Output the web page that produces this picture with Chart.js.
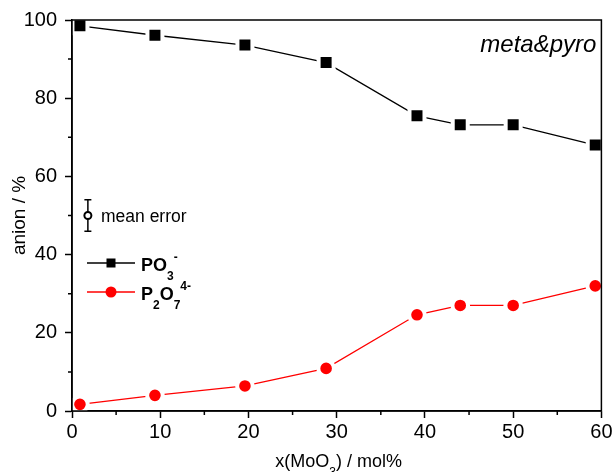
<!DOCTYPE html>
<html>
<head>
<meta charset="utf-8">
<script src="https://cdn.jsdelivr.net/npm/chart.js@4/dist/chart.umd.min.js"></script>
<style>
html, body { margin: 0; padding: 0; background: #fff; }
#wrap { width: 616px; height: 472px; }
</style>
</head>
<body>
<div id="wrap"><canvas id="lineChart" width="616" height="472"></canvas></div>
<script>
// values
var xMoO3 = [0.15, 0.9, 9.4, 19.6, 28.8, 39.1, 44.0, 50.0, 59.3];
var metaPO3 = [99.0, 98.5, 96.1, 93.6, 89.1, 75.5, 73.2, 73.2, 68.0];
var pyroP2O7 = [1.1, 1.7, 4.0, 6.4, 10.9, 24.6, 27.0, 27.0, 32.0];
var meanErrX = [1.8];
var meanErrY = [50];
var meanErrBar = [4];
var xTicks = [0, 10, 20, 30, 40, 50, 60];
var yTicks = [0, 20, 40, 60, 80, 100];
var xMinor = [5, 15, 25, 35, 45, 55];
var yMinor = [10, 30, 50, 70, 90];

var FONT = "'Liberation Sans', Arial, sans-serif";

function pts(xs, ys) {
    return xs.map(function (x, i) { return { x: x, y: ys[i] }; });
}

// error bar of the "mean error" marker
var errorBars = {
    id: 'errorBars',
    beforeDatasetsDraw: function (chart) {
        var ctx = chart.ctx, xs = chart.scales.x, ys = chart.scales.y;
        ctx.save();
        ctx.strokeStyle = '#000';
        ctx.lineWidth = 1.5;
        for (var i = 0; i < meanErrX.length; i++) {
            var px = xs.getPixelForValue(meanErrX[i]);
            var y1 = ys.getPixelForValue(meanErrY[i] + meanErrBar[i]);
            var y2 = ys.getPixelForValue(meanErrY[i] - meanErrBar[i]);
            ctx.beginPath();
            ctx.moveTo(px, y1); ctx.lineTo(px, y2);
            ctx.moveTo(px - 3.5, y1); ctx.lineTo(px + 3.5, y1);
            ctx.moveTo(px - 3.5, y2); ctx.lineTo(px + 3.5, y2);
            ctx.stroke();
        }
        ctx.restore();
    }
};

// text with sub/superscripts: parts = [[text, 'n'|'sub'|'sup'], ...]
function richText(ctx, parts, x, base, size, weight) {
    var big = weight + ' ' + size + 'px ' + FONT;
    var small = weight + ' ' + Math.round(size * 0.66) + 'px ' + FONT;
    var capTop = base - size * 0.716;
    var cx = x;
    parts.forEach(function (p) {
        if (p[1] === 'n') {
            ctx.font = big;
            ctx.fillText(p[0], cx, base);
        } else if (p[1] === 'sub') {
            ctx.font = small;
            ctx.fillText(p[0], cx, base + size * 0.5);
        } else {
            ctx.font = small;
            ctx.fillText(p[0], cx, capTop + size * 0.15);
        }
        cx += ctx.measureText(p[0]).width;
    });
    return cx - x;
}

var decorations = {
    id: 'decorations',
    afterDraw: function (chart) {
        var ctx = chart.ctx, a = chart.chartArea;
        var xs = chart.scales.x, ys = chart.scales.y;
        ctx.save();
        ctx.strokeStyle = '#000';
        ctx.lineWidth = 1.5;
        ctx.strokeRect(a.left, a.top, a.right - a.left, a.bottom - a.top);
        ctx.beginPath();
        xMinor.forEach(function (v) {
            var px = xs.getPixelForValue(v);
            ctx.moveTo(px, a.bottom); ctx.lineTo(px, a.bottom + 4);
        });
        yMinor.forEach(function (v) {
            var py = ys.getPixelForValue(v);
            ctx.moveTo(a.left, py); ctx.lineTo(a.left - 4, py);
        });
        ctx.stroke();

        ctx.fillStyle = '#000';
        ctx.textBaseline = 'alphabetic';

        // x axis title
        var xt = [['x(MoO', 'n'], ['3', 'sub'], [') / mol%', 'n']];
        ctx.textAlign = 'left';
        var w = richText(ctx, xt, -1000, 0, 18, 'normal');
        richText(ctx, xt, (a.left + a.right) / 2 - w / 2 + 2, 467, 18, 'normal');

        // label in the corner
        ctx.font = 'italic 24px ' + FONT;
        ctx.textAlign = 'right';
        ctx.fillText('meta&pyro', a.right - 5, 52);
        ctx.textAlign = 'left';

        // mean error label
        ctx.font = '17.5px ' + FONT;
        ctx.fillText('mean error', 101, 222);

        // legend
        ctx.lineWidth = 1.3;
        ctx.strokeStyle = '#000';
        ctx.beginPath(); ctx.moveTo(87, 263); ctx.lineTo(135, 263); ctx.stroke();
        ctx.fillStyle = '#000';
        ctx.fillRect(106.5, 258.5, 9, 9);
        richText(ctx, [['PO', 'n'], ['3', 'sub'], ['-', 'sup']], 141, 271, 18, 'bold');

        ctx.strokeStyle = '#ff0000';
        ctx.beginPath(); ctx.moveTo(87, 292); ctx.lineTo(135, 292); ctx.stroke();
        ctx.fillStyle = '#ff0000';
        ctx.beginPath(); ctx.arc(111, 292, 5.5, 0, Math.PI * 2); ctx.fill();
        ctx.fillStyle = '#000';
        richText(ctx, [['P', 'n'], ['2', 'sub'], ['O', 'n'], ['7', 'sub'], ['4-', 'sup']], 141, 300, 18, 'bold');
        ctx.restore();
    }
};

var ctxL = document.getElementById('lineChart').getContext('2d');
var myLineChart = new Chart(ctxL, {
    type: 'line',
    data: {
        datasets: [{
            label: 'mean error',
            data: pts(meanErrX, meanErrY),
            showLine: false,
            pointStyle: 'circle',
            pointRadius: 3.5,
            pointBorderWidth: 2,
            pointBorderColor: '#000',
            pointBackgroundColor: '#fff'
        }, {
            label: 'PO3-',
            data: pts(xMoO3, metaPO3),
            borderColor: '#000',
            borderWidth: 1.3,
            pointStyle: 'rect',
            pointRadius: function (c) { return c.dataIndex === 0 ? 7.8 : 10.6; },
            pointBorderWidth: function (c) { return c.dataIndex === 0 ? 0 : 4; },
            pointBorderColor: '#fff',
            pointBackgroundColor: '#000'
        }, {
            label: 'P2O74-',
            data: pts(xMoO3, pyroP2O7),
            borderColor: '#ff0000',
            borderWidth: 1.3,
            pointStyle: 'circle',
            pointRadius: function (c) { return c.dataIndex === 0 ? 5.8 : 7.8; },
            pointBorderWidth: function (c) { return c.dataIndex === 0 ? 0 : 4; },
            pointBorderColor: '#fff',
            pointBackgroundColor: '#ff0000'
        }]
    },
    options: {
        responsive: false,
        animation: false,
        layout: { padding: { top: 18, right: 12, left: 0, bottom: 0 } },
        plugins: { legend: { display: false }, tooltip: { enabled: false } },
        scales: {
            x: {
                type: 'linear', min: 0, max: 60,
                afterBuildTicks: function (s) { s.ticks = xTicks.map(function (v) { return { value: v }; }); },
                afterFit: function (s) { s.height = 61; },
                grid: { drawOnChartArea: false, tickLength: 7, tickColor: '#000', tickWidth: 1.5 },
                border: { color: '#000', width: 1.5 },
                ticks: { color: '#000', font: { family: FONT, size: 20 }, padding: 2, maxRotation: 0 }
            },
            y: {
                type: 'linear', min: 0, max: 100,
                afterBuildTicks: function (s) { s.ticks = yTicks.map(function (v) { return { value: v }; }); },
                afterFit: function (s) { s.width = 72; },
                grid: { drawOnChartArea: false, tickLength: 7, tickColor: '#000', tickWidth: 1.5 },
                border: { color: '#000', width: 1.5 },
                ticks: { color: '#000', font: { family: FONT, size: 20 }, padding: 8 },
                title: { display: true, text: 'anion / %', color: '#000', font: { family: FONT, size: 19 }, padding: { top: 8, bottom: 0 } }
            }
        }
    },
    plugins: [errorBars, decorations]
});
</script>
</body>
</html>
